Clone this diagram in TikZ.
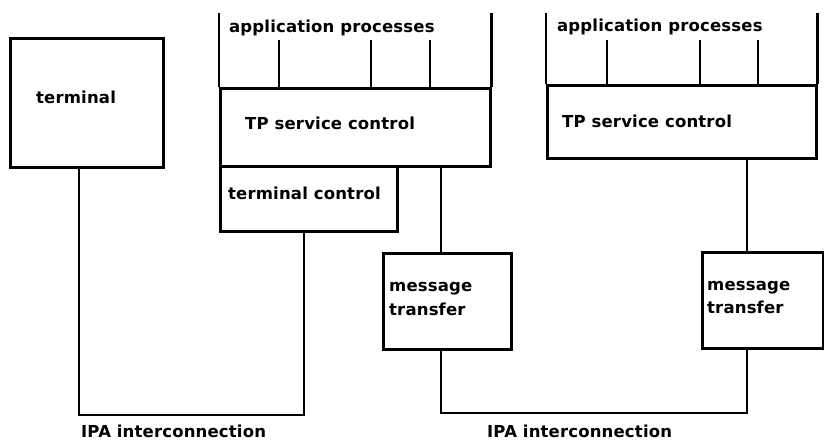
\documentclass[tikz,border=0pt]{standalone}
\usepackage{fontspec}
\newfontfamily\lab{DejaVu Sans}[LetterSpace=1, UprightFont=* Bold]
\begin{document}
\begin{tikzpicture}[x=1pt,y=-1pt,
  box/.style={draw, line width=2.6pt, inner sep=0pt, anchor=north west},
  conn/.style={line width=2.6pt},
  tick/.style={line width=2.3pt},
  lbl/.style={font=\lab\fontsize{16.5}{23.5}\selectfont, anchor=base west, inner sep=0pt},
  lbl2/.style={lbl, align=left}]
\useasboundingbox (0,0) rectangle (824,441);
% boxes
\node[box, minimum width=153pt, minimum height=129pt] (term) at (9,37) {};
\node[box, minimum width=270pt, minimum height=78pt] (tpl) at (219,87) {};
\node[box, minimum width=177pt, minimum height=65pt] (tcl) at (219,165) {};
\node[box, minimum width=128pt, minimum height=96pt] (mtl) at (382,252) {};
\node[box, minimum width=269pt, minimum height=73pt] (tpr) at (546,84) {};
\node[box, minimum width=121pt, minimum height=96pt] (mtr) at (701,251) {};
% labels
\node[lbl] (tterm) at (36,103) {terminal};
\node[lbl] (apl) at (229,32.5) {application processes};
\node[lbl] (tpsl) at (245,129.5) {TP service control};
\node[lbl] (ttc) at (228,199) {terminal control};
\node[lbl2] (tmtl) at (389,315) {message\\transfer};
\node[lbl] (apr) at (557,31.5) {application processes};
\node[lbl] (tpsr) at (562,127.5) {TP service control};
\node[lbl2] (tmtr) at (707,313.5) {message\\transfer};
\node[lbl] (ipal) at (81,437) {IPA interconnection};
\node[lbl] (ipar) at (487,437) {IPA interconnection};
% stack sides
\coordinate (top) at (0,13);
\draw[conn] (tpl.north west) -- (tpl.north west |- top);
\draw[conn] (tpl.north east) -- (tpl.north east |- top);
\draw[conn] (tpr.north west) -- (tpr.north west |- top);
\draw[conn] (tpr.north east) -- (tpr.north east |- top);
% application process ticks
\coordinate (a1) at (279,40);
\coordinate (a2) at (371,40);
\coordinate (a3) at (430,40);
\coordinate (a4) at (607,40);
\coordinate (a5) at (700,40);
\coordinate (a6) at (758,40);
\foreach \c in {a1,a2,a3} \draw[tick] (\c) -- (\c |- tpl.north);
\foreach \c in {a4,a5,a6} \draw[tick] (\c) -- (\c |- tpr.north);
% connectors
\coordinate (b1) at (79,415);
\coordinate (b2) at (304,415);
\draw[conn] (term.south -| b1) -- (b1) -- (b2) -- (tcl.south -| b2);
\coordinate (c1) at (441,413);
\coordinate (c2) at (747,413);
\draw[conn] (tpl.south -| c1) -- (mtl.north -| c1);
\draw[conn] (tpr.south -| c2) -- (mtr.north -| c2);
\draw[conn] (mtl.south -| c1) -- (c1) -- (c2) -- (mtr.south -| c2);
\end{tikzpicture}
\end{document}
